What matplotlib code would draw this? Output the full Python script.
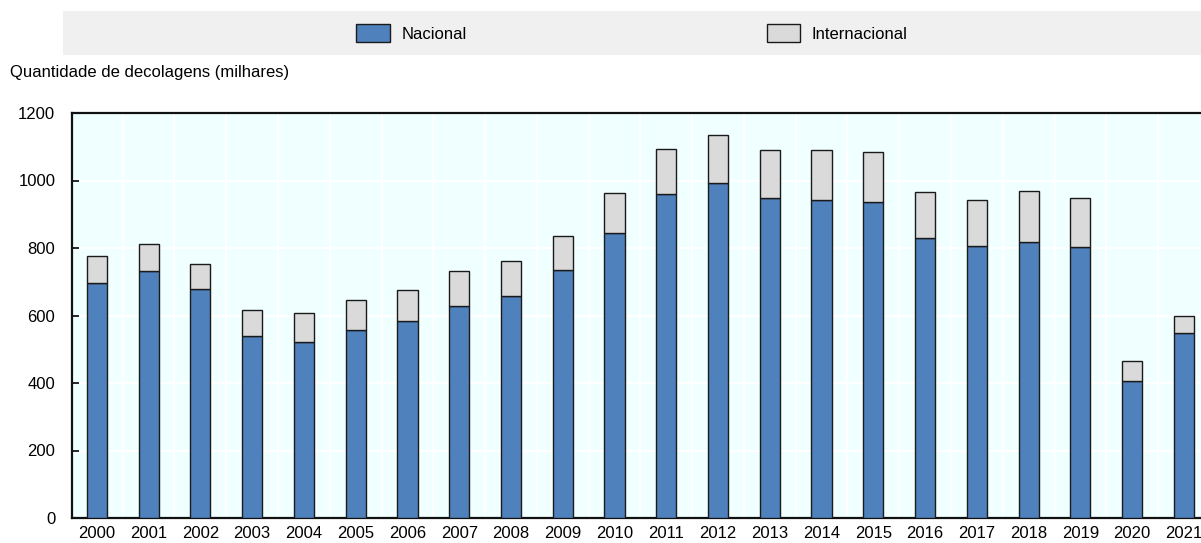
import matplotlib.pyplot as plt
import numpy as np
from matplotlib.patches import Rectangle

plt.rcParams['font.family'] = ['Liberation Sans Narrow', 'Liberation Sans', 'DejaVu Sans']

anos = ['2000', '2001', '2002', '2003', '2004', '2005', '2006', '2007', '2008', '2009', '2010',
        '2011', '2012', '2013', '2014', '2015', '2016', '2017', '2018', '2019', '2020', '2021']
nacional = [695, 733, 680, 539, 521, 557, 585, 627, 658, 735, 844,
            959, 993, 947, 943, 936, 830, 806, 818, 803, 406, 547]
total = [777, 813, 753, 615, 608, 646, 675, 731, 761, 836, 964,
         1093, 1134, 1089, 1091, 1084, 966, 942, 969, 948, 466, 600]
internacional = [t - n for t, n in zip(total, nacional)]

fig = plt.figure(figsize=(12.01, 5.43), dpi=100)
ax = fig.add_axes([72 / 1201, 25 / 543, 1 - 72 / 1201, 405 / 543])

# faixa cinza da legenda
fig.patches.append(Rectangle((63 / 1201, 1 - 55 / 543), 1 - 63 / 1201, 44 / 543,
                             transform=fig.transFigure, facecolor='#f0f0f0',
                             edgecolor='none', zorder=0))

x = np.arange(len(anos))
w = 0.39
b1 = ax.bar(x, nacional, w, color='#4f81bd', edgecolor='#1a1a1a', linewidth=1.0,
            label='Nacional', zorder=3)
b2 = ax.bar(x, internacional, w, bottom=nacional, color='#dadada', edgecolor='#1a1a1a',
            linewidth=1.0, label='Internacional', zorder=3)

ax.set_facecolor('#f0ffff')
ax.set_xlim(-0.48, 21.33)
ax.set_ylim(0, 1200)
ax.set_yticks(range(0, 1201, 200))
ax.set_xticks(x)
ax.set_xticklabels(anos)
ax.set_xticks(x[:-1] + 0.5, minor=True)
ax.grid(True, which='major', axis='y', color='white', linewidth=1.5, zorder=0)
ax.grid(True, which='minor', axis='x', color='white', linewidth=1.5, zorder=0)
ax.set_axisbelow(True)

ax.tick_params(axis='x', which='both', length=0, labelsize=12, pad=6)
ax.tick_params(axis='y', direction='in', length=5, width=1.2, labelsize=12, pad=12)
ax.tick_params(axis='y', which='minor', length=0)
for s in ['left', 'bottom', 'top']:
    ax.spines[s].set_linewidth(1.6)
    ax.spines[s].set_color('#111111')
ax.spines['right'].set_visible(False)

fig.text(10 / 1201, 1 - 72 / 543, 'Quantidade de decolagens (milhares)', fontsize=12,
         va='center', ha='left')

fig.legend(handles=[b1, b2], labels=['Nacional', 'Internacional'], ncol=2,
           loc='center', bbox_to_anchor=(632 / 1201, 1 - 33 / 543), frameon=False,
           fontsize=12, handlelength=2.0, handleheight=1.2, handletextpad=0.7,
           columnspacing=18)

fig.savefig('out.png', dpi=100)
